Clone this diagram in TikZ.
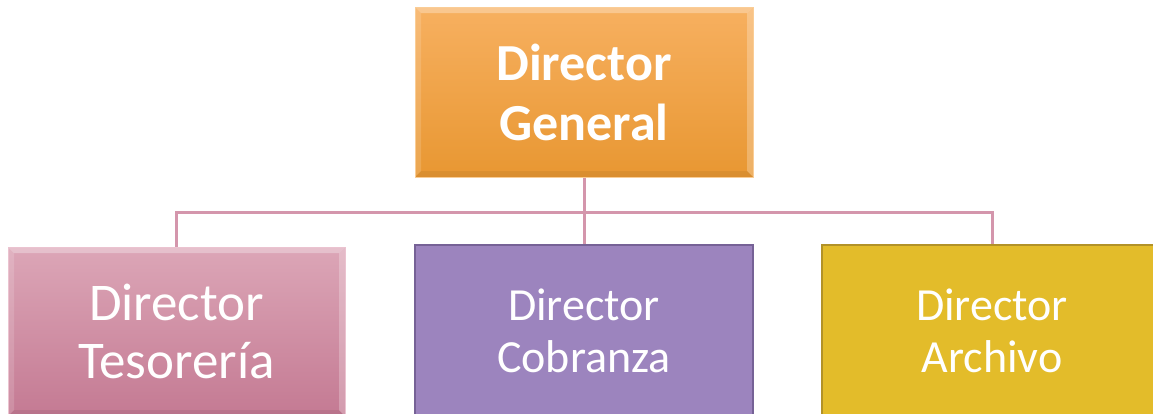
\documentclass[tikz,border=0pt]{standalone}
\usepackage{fontspec}
\usetikzlibrary{backgrounds}
\setmainfont{Carlito}
\definecolor{orTop}{RGB}{247,176,96}
\definecolor{orBot}{RGB}{232,151,50}
\definecolor{orEdge}{RGB}{250,205,150}
\definecolor{pkTop}{RGB}{220,166,183}
\definecolor{pkBot}{RGB}{196,122,147}
\definecolor{pkEdge}{RGB}{235,195,208}
\definecolor{lila}{RGB}{156,132,190}
\definecolor{lilaEdge}{RGB}{118,98,150}
\definecolor{oro}{RGB}{227,188,42}
\definecolor{oroEdge}{RGB}{178,146,40}
\definecolor{linkpink}{RGB}{212,150,172}
\begin{document}
\begin{tikzpicture}[x=1pt,y=-1pt,
  box/.style={rectangle,inner sep=0pt,outer sep=0pt,text=white,align=center},
  link/.style={draw=linkpink,line width=3pt,line join=miter},
  bevel/.style={path picture={
    \coordinate (bnw) at (path picture bounding box.north west);
    \coordinate (bne) at (path picture bounding box.north east);
    \coordinate (bsw) at (path picture bounding box.south west);
    \coordinate (bse) at (path picture bounding box.south east);
    \fill[white,opacity=.3] (bnw) -- (bne) -- ([shift={(-6pt,-6pt)}]bne) -- ([shift={(6pt,-6pt)}]bnw) -- cycle;
    \fill[white,opacity=.15] (bnw) -- ([shift={(6pt,-6pt)}]bnw) -- ([shift={(6pt,6pt)}]bsw) -- (bsw) -- cycle;
    \fill[white,opacity=.25] (bne) -- ([shift={(-6pt,-6pt)}]bne) -- ([shift={(-6pt,6pt)}]bse) -- (bse) -- cycle;
    \fill[black,opacity=.06] (bsw) -- ([shift={(6pt,6pt)}]bsw) -- ([shift={(-6pt,6pt)}]bse) -- (bse) -- cycle;
  }}]
\useasboundingbox (0,0) rectangle (1153,413);

% top-level box
\node[box,bevel,minimum width=338pt,minimum height=170pt,
      top color=orTop,bottom color=orBot,draw=orEdge,line width=1pt,
      font=\fontsize{52}{60}\selectfont\bfseries] (gen) at (584,92)
  {Director\\General};

% second level boxes
\node[box,bevel,minimum width=337pt,minimum height=169pt,
      top color=pkTop,bottom color=pkBot,draw=pkEdge,line width=1pt,
      font=\fontsize{53}{58}\selectfont] (tes) at (176.5,331.5)
  {Director\\Tesorería};
\node[box,minimum width=338pt,minimum height=171pt,
      fill=lila,draw=lilaEdge,line width=1.5pt,
      font=\fontsize{46}{52}\selectfont] (cob) at (584,330.5)
  {Director\\Cobranza};
\node[box,minimum width=340pt,minimum height=171pt,
      fill=oro,draw=oroEdge,line width=1.5pt,
      font=\fontsize{46}{52}\selectfont] (arc) at (992,330.5)
  {Director\\Archivo};

% connectors, kept behind the boxes
\coordinate (j) at (gen.south |- 0,212);
\begin{pgfonlayer}{background}
  \draw[link] (gen.south) -- (cob.north);
  \draw[link] (tes.north) |- (j) -| (arc.north);
\end{pgfonlayer}
\end{tikzpicture}
\end{document}
